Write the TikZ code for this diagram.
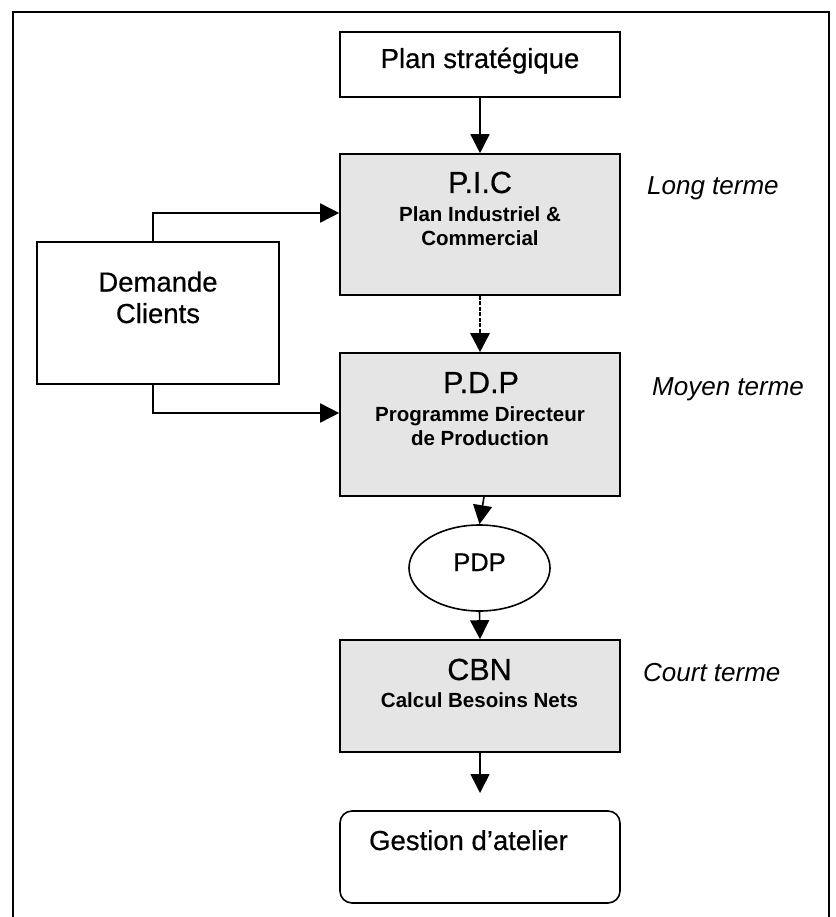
\documentclass[tikz,border=0pt]{standalone}
\usepackage{fontspec}
\setmainfont{Liberation Sans}
\newfontfamily\heavyfont[FakeBold=0.5]{Liberation Sans}
\usetikzlibrary{arrows.meta,shapes.geometric}
\definecolor{boxgray}{HTML}{E5E5E5}
\begin{document}
\begin{tikzpicture}[x=1pt,y=-1pt,
  box/.style={draw,line width=1.6pt,minimum width=280pt,inner sep=0pt},
  graybox/.style={box,fill=boxgray},
  arr/.style={line width=1.6pt,-{Triangle[length=19pt,width=19pt]}},
  lbl/.style={font=\heavyfont\fontsize{27.5}{30}\selectfont,anchor=base,inner sep=0pt},
  ttl/.style={font=\heavyfont\fontsize{30.5}{33}\selectfont,anchor=base,inner sep=0pt},
  subt/.style={font=\bfseries\fontsize{20.5}{23}\selectfont,anchor=base,inner sep=0pt},
  term/.style={font=\itshape\fontsize{26}{28}\selectfont,anchor=base west,inner sep=0pt}]
\useasboundingbox (0,0) rectangle (835,917);
\draw[line width=1.7pt] (13,917) -- (13,12) -- (829,12) -- (829,917);

% Plan strategique
\node[box,minimum height=65pt] (strat) at (480,64.5) {};
\node[lbl] (stratt) at (480,68) {Plan stratégique};

% PIC
\node[graybox,minimum height=141pt] (pic) at (480,224.5) {};
\node[ttl] (pict) at (480,193) {P.I.C};
\node[subt] (pics1) at (480,221.5) {Plan Industriel \&};
\node[subt] (pics2) at (480,245.5) {Commercial};
\node[term] (long) at (647,195) {Long terme};

% Demande clients
\node[box,minimum width=242pt,minimum height=142pt] (dem) at (158,313) {};
\node[lbl] (dem1) at (158,291.5) {Demande};
\node[lbl] (dem2) at (158,323) {Clients};

% PDP
\node[graybox,minimum height=143pt] (pdp) at (480,424.5) {};
\node[ttl] (pdpt) at (481,393) {P.D.P};
\node[subt] (pdps1) at (480,421.5) {Programme Directeur};
\node[subt] (pdps2) at (480,445) {de Production};
\node[term] (moyen) at (652,395) {Moyen terme};

% ellipse
\node[draw,ellipse,line width=1.6pt,minimum width=141pt,minimum height=86pt,inner sep=0pt] (ell) at (479.5,568) {};
\node[font=\heavyfont\fontsize{25.5}{28}\selectfont,anchor=base,inner sep=0pt] (ellt) at (479.5,571) {PDP};

% CBN
\node[graybox,minimum height=112pt] (cbn) at (480,696) {};
\node[ttl] (cbnt) at (479.5,680) {CBN};
\node[subt] (cbns) at (479.5,707) {Calcul Besoins Nets};
\node[term] (court) at (643,681.5) {Court terme};

% Gestion
\node[box,rounded corners=12pt,minimum height=92pt] (gest) at (480,857) {};
\node[lbl] (gestt) at (468.5,850) {Gestion d’atelier};
\coordinate (cbnend) at (480,793);

% connectors
\draw[arr] (strat.south) -- (pic.north);
\draw[arr,line width=2.8pt,dash pattern=on 4pt off 1.5pt] (pic.south) -- (pdp.north);
\draw[arr] ([xshift=-5pt]dem.north) |- ([yshift=11.5pt]pic.west);
\draw[arr] ([xshift=-5pt]dem.south) |- ([yshift=11.5pt]pdp.west);
\draw[arr] ([xshift=4pt]pdp.south) -- (ell.north);
\draw[arr] (ell.south) -- (cbn.north);
\draw[arr] (cbn.south) -- (cbnend);
\end{tikzpicture}
\end{document}
